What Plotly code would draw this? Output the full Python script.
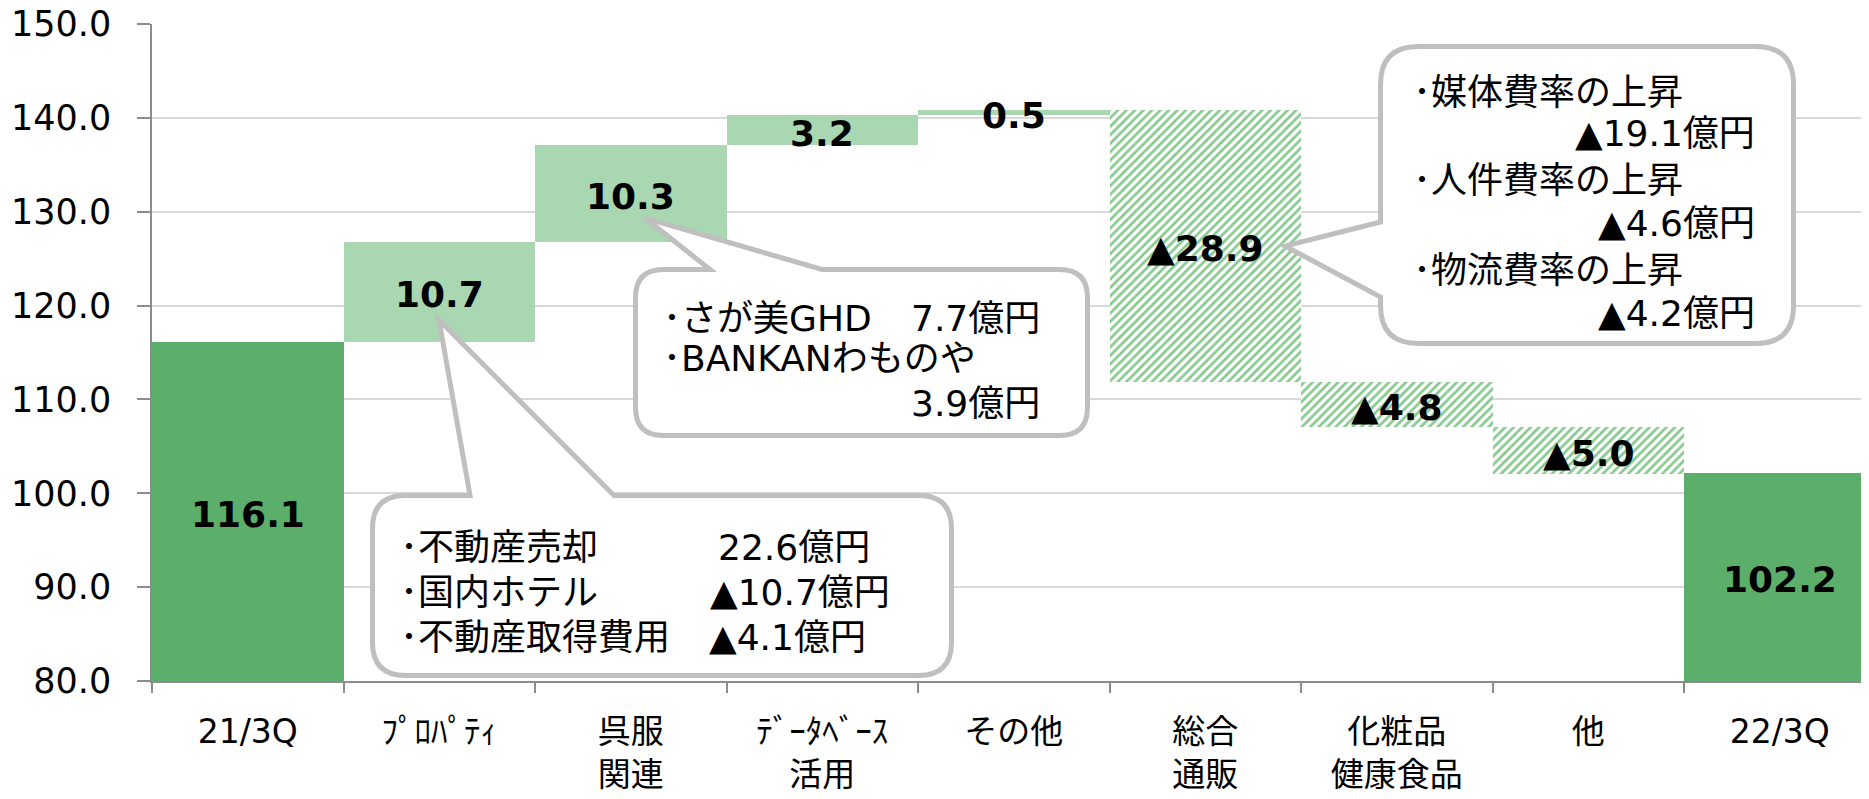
import plotly.graph_objects as go

# ---------------- data ----------------
categories = ["21/3Q", "ﾌﾟﾛﾊﾟﾃｨ", "呉服<br>関連", "ﾃﾞｰﾀﾍﾞｰｽ<br>活用", "その他",
              "総合<br>通販", "化粧品<br>健康食品", "他", "22/3Q"]
start_value = 116.1
delta_values = [10.7, 10.3, 3.2, 0.5, -28.9, -4.8, -5.0]
end_value = 102.2
y_tick_values = [80, 90, 100, 110, 120, 130, 140, 150]

callout1_left = ["･不動産売却", "･国内ホテル", "･不動産取得費用"]
callout1_right = ["22.6億円", "▲10.7億円", "▲4.1億円"]
callout2_left = ["･さが美GHD", "･BANKANわものや"]
callout2_right = ["7.7億円", "3.9億円"]
callout3_left = ["･媒体費率の上昇", "･人件費率の上昇", "･物流費率の上昇"]
callout3_right = ["▲19.1億円", "▲4.6億円", "▲4.2億円"]

# ---------------- styling ----------------
FONT = "DejaVu Sans, Noto Sans CJK JP"
DARK = "#5BAF6B"
LIGHT = "#A9D7B1"
HATCH = "#86C98E"
GRID = "#D9D9D9"
AXIS = "#8C8C8C"
CALL = "#BFBFBF"

OFF = 8  # page body margin
W, H = 1869 - OFF, 799 - OFF
# screen-space plot box: left 152, top 24, bottom 681, right 1869
ML, MT = 152 - OFF, 24 - OFF
MR = 0
MB = H - (681 - OFF)
PW, PH = W - ML - MR, H - MT - MB
YMIN, YMAX = 80, 150
CATW = 191.5


def px(x, y):
    """screen pixel -> paper coords"""
    return (x - OFF - ML) / PW, (681 - y) / PH


# ---------------- compute waterfall ----------------
inc_x, inc_base, inc_h = [], [], []
dec_x, dec_base, dec_h = [], [], []
labels = []  # (x, ycenter, text)
level = start_value
labels.append((categories[0], (YMIN + start_value) / 2, f"{start_value:.1f}"))
for cat, d in zip(categories[1:-1], delta_values):
    if d >= 0:
        inc_x.append(cat); inc_base.append(level); inc_h.append(d)
        labels.append((cat, level + d / 2, f"{d:.1f}"))
    else:
        dec_x.append(cat); dec_base.append(level + d); dec_h.append(-d)
        labels.append((cat, level + d / 2, f"▲{-d:.1f}"))
    level += d
labels.append((categories[-1], (YMIN + end_value) / 2, f"{end_value:.1f}"))

fig = go.Figure()
fig.add_trace(go.Bar(x=[categories[0], categories[-1]], y=[start_value, end_value],
                     marker=dict(color=DARK, line=dict(width=0)), hoverinfo="skip"))
fig.add_trace(go.Bar(x=inc_x, y=inc_h, base=inc_base,
                     marker=dict(color=LIGHT, line=dict(width=0)), hoverinfo="skip"))
fig.add_trace(go.Bar(x=dec_x, y=dec_h, base=dec_base,
                     marker=dict(color="white", line=dict(width=0),
                                 pattern=dict(shape="/", fgcolor=HATCH, bgcolor="white",
                                              size=6, solidity=0.45, fillmode="replace")),
                     hoverinfo="skip"))

annotations = []
for x, yc, t in labels:
    annotations.append(dict(x=x, y=yc, xref="x", yref="y", text=f"<b>{t}</b>",
                            showarrow=False, yshift=-3,
                            font=dict(family=FONT, size=36, color="black")))


# ---------------- callouts ----------------
def build(cmds):
    s = ""
    for c, pts in cmds:
        s += c + " " + " ".join("%.5f,%.5f" % px(*p) for p in pts) + " "
    return s + "Z"


def callout_top(L, T, R, B, r, b1, tip, b2):
    cmds = [("M", [(L + r, T)]), ("L", [(b1, T)]), ("L", [tip]), ("L", [(b2, T)]),
            ("L", [(R - r, T)]), ("Q", [(R, T), (R, T + r)]), ("L", [(R, B - r)]),
            ("Q", [(R, B), (R - r, B)]), ("L", [(L + r, B)]), ("Q", [(L, B), (L, B - r)]),
            ("L", [(L, T + r)]), ("Q", [(L, T), (L + r, T)])]
    return build(cmds)


def callout_left(L, T, R, B, r, b1, tip, b2):
    cmds = [("M", [(L + r, T)]), ("L", [(R - r, T)]), ("Q", [(R, T), (R, T + r)]),
            ("L", [(R, B - r)]), ("Q", [(R, B), (R - r, B)]), ("L", [(L + r, B)]),
            ("Q", [(L, B), (L, B - r)]), ("L", [(L, b2)]), ("L", [tip]), ("L", [(L, b1)]),
            ("L", [(L, T + r)]), ("Q", [(L, T), (L + r, T)])]
    return build(cmds)


shapes = [
    dict(type="path", xref="paper", yref="paper",
         path=callout_top(372.5, 495.5, 951.5, 675.5, 33, 470, (439, 320), 614),
         fillcolor="white", line=dict(color=CALL, width=5), layer="above"),
    dict(type="path", xref="paper", yref="paper",
         path=callout_top(635.5, 269.5, 1087.5, 435.5, 28, 710, (645, 218), 822),
         fillcolor="white", line=dict(color=CALL, width=5), layer="above"),
    dict(type="path", xref="paper", yref="paper",
         path=callout_left(1380.5, 46.5, 1793.5, 343.5, 38, 222, (1285, 246), 297),
         fillcolor="white", line=dict(color=CALL, width=5), layer="above"),
]


def text_ann(x, y, t, anchor):
    xp, yp = px(x, y)
    return dict(x=xp, y=yp, xref="paper", yref="paper", text=t, showarrow=False,
                xanchor=anchor, yanchor="middle",
                font=dict(family=FONT, size=36, color="black"))


for i, y in enumerate([547, 592, 637]):
    annotations.append(text_ann(398, y, callout1_left[i], "left"))
annotations.append(text_ann(716, 547, callout1_right[0], "left"))
annotations.append(text_ann(708, 592, callout1_right[1], "left"))
annotations.append(text_ann(707, 637, callout1_right[2], "left"))

annotations.append(text_ann(661, 318, callout2_left[0], "left"))
annotations.append(text_ann(661, 358, callout2_left[1], "left"))
annotations.append(text_ann(1042, 318, callout2_right[0], "right"))
annotations.append(text_ann(1042, 403, callout2_right[1], "right"))

for i, (yl, yr) in enumerate([(92, 133), (180, 223), (270, 313)]):
    annotations.append(text_ann(1411, yl, callout3_left[i], "left"))
    annotations.append(text_ann(1757, yr, callout3_right[i], "right"))

fig.update_layout(
    width=W, height=H,
    margin=dict(l=ML, r=MR, t=MT, b=MB, pad=0, autoexpand=False),
    paper_bgcolor="white", plot_bgcolor="white",
    barmode="overlay", bargap=0, showlegend=False,
    font=dict(family=FONT, color="black"),
    annotations=annotations, shapes=shapes,
    xaxis=dict(type="category", categoryorder="array", categoryarray=categories,
               range=[-0.5, -0.5 + PW / CATW], showgrid=False, automargin=False,
               showline=True, linecolor=AXIS, linewidth=1.5,
               ticks="outside", tickson="boundaries", ticklen=10, tickcolor=AXIS, tickwidth=1.5,
               tickfont=dict(family=FONT, size=33, color="black"), ticklabelstandoff=21,
               ticklabeloverflow="allow"),
    yaxis=dict(range=[YMIN, YMAX], tickvals=y_tick_values, tickformat=".1f",
               showgrid=True, gridcolor=GRID, gridwidth=2, automargin=False,
               showline=True, linecolor=AXIS, linewidth=1.5, zeroline=False,
               ticks="outside", ticklen=13, tickcolor=AXIS, tickwidth=1.5,
               tickfont=dict(family=FONT, size=35, color="black"), ticklabelstandoff=19,
               ticklabeloverflow="allow"),
)

fig.write_html("out.html")
